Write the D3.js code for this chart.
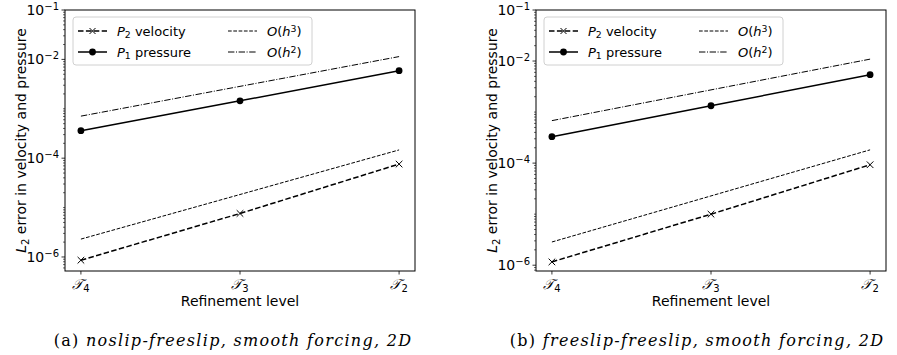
<!DOCTYPE html>
<html>
<head>
<meta charset="utf-8">
<script src="https://cdnjs.cloudflare.com/ajax/libs/d3/7.8.5/d3.min.js"></script>
<style>
  body { margin: 0; background: #fff; }
  svg { display: block; }
  text { font-family: "DejaVu Sans", sans-serif; fill: #000; }
  .cap { font-family: "DejaVu Serif", serif; }
</style>
</head>
<body>
<div id="chart"></div>
<script>
// refinement levels on the x axis (T_4, T_3, T_2)
var levels = ["4", "3", "2"];
var yTicks = [1e-1, 1e-2, 1e-4, 1e-6];

// (a) noslip-freeslip
var velA = [8.6e-7, 7.6e-6, 7.6e-5];
var presA = [3.6e-4, 1.45e-3, 5.9e-3];
var h3A = [2.3e-6, 1.47e-4];   // reference slope at T_4 and T_2
var h2A = [7.1e-4, 1.14e-2];

// (b) freeslip-freeslip
var velB = [1.16e-6, 1.0e-5, 9.3e-5];
var presB = [3.3e-4, 1.33e-3, 5.4e-3];
var h3B = [2.85e-6, 1.82e-4];
var h2B = [6.8e-4, 1.09e-2];

var W = 897, H = 355;
var svg = d3.select("#chart").append("svg")
    .attr("width", W)
    .attr("height", H);

var panels = [
    { left: 65, yMin: 5.2e-7, vel: velA, pres: presA, h3: h3A, h2: h2A,
      capX: 233, tag: "(a) ", caption: "noslip-freeslip, smooth forcing, 2D" },
    { left: 536, yMin: 7.7e-7, vel: velB, pres: presB, h3: h3B, h2: h2B,
      capX: 697, tag: "(b) ", caption: "freeslip-freeslip, smooth forcing, 2D" }
];

var plotTop = 10, plotW = 350, plotH = 261;

// write "P_2 velocity" like mixed math text
function mathLabel(sel, parts) {
    parts.forEach(function (p) {
        var t = sel.append("tspan").text(p.t);
        if (p.i) t.style("font-style", "italic");
        if (p.sub) t.attr("baseline-shift", "-25%").style("font-size", "0.72em");
        if (p.sup) t.attr("baseline-shift", "45%").style("font-size", "0.72em");
    });
}

panels.forEach(function (p) {
    var g = svg.append("g")
        .attr("transform", "translate(" + p.left + "," + plotTop + ")");

    var x = d3.scalePoint()
        .domain(levels)
        .range([0, plotW])
        .padding(0.1);

    var y = d3.scaleLog()
        .domain([p.yMin, 1e-1])
        .range([plotH, 0]);

    // minor ticks on the y axis
    var minor = [];
    for (var e = -7; e <= -2; e++) {
        for (var m = 1; m <= 9; m++) {
            var v = m * Math.pow(10, e);
            if (v >= p.yMin && v <= 1e-1 && yTicks.indexOf(v) < 0) minor.push(v);
        }
    }
    g.selectAll(".minor")
        .data(minor)
        .enter()
        .append("line")
        .attr("x1", -2).attr("x2", 0)
        .attr("y1", function (d) { return y(d); })
        .attr("y2", function (d) { return y(d); })
        .attr("stroke", "#000")
        .attr("stroke-width", 0.6);

    // major ticks + labels
    var yt = g.selectAll(".ytick")
        .data(yTicks)
        .enter()
        .append("g")
        .attr("transform", function (d) { return "translate(0," + y(d) + ")"; });
    yt.append("line")
        .attr("x1", -3.5).attr("x2", 0)
        .attr("stroke", "#000")
        .attr("stroke-width", 0.8);
    yt.append("text")
        .attr("x", -6)
        .attr("dy", "0.35em")
        .attr("text-anchor", "end")
        .style("font-size", "14px")
        .each(function (d) {
            var t = d3.select(this);
            t.append("tspan").text("10");
            t.append("tspan")
                .attr("baseline-shift", "55%")
                .style("font-size", "10px")
                .text("\u2212" + Math.round(-Math.log10(d)));
        });

    // x ticks
    var xt = g.selectAll(".xtick")
        .data(levels)
        .enter()
        .append("g")
        .attr("transform", function (d) { return "translate(" + x(d) + "," + plotH + ")"; });
    xt.append("line")
        .attr("y1", 0).attr("y2", 3.5)
        .attr("stroke", "#000")
        .attr("stroke-width", 0.8);
    xt.append("text")
        .attr("y", 18)
        .attr("text-anchor", "middle")
        .style("font-size", "14px")
        .each(function (d) {
            var t = d3.select(this);
            t.append("tspan").style("font-style", "italic").text("\uD835\uDCAF");
            t.append("tspan").attr("baseline-shift", "-25%").style("font-size", "10px").text(d);
        });

    // axis titles
    g.append("text")
        .attr("x", plotW / 2)
        .attr("y", plotH + 35)
        .attr("text-anchor", "middle")
        .style("font-size", "14px")
        .text("Refinement level");

    var yl = g.append("text")
        .attr("transform", "translate(" + (-39.5) + "," + (plotH / 2) + ") rotate(-90)")
        .attr("text-anchor", "middle")
        .style("font-size", "14px");
    mathLabel(yl, [{ t: "L", i: true }, { t: "2", sub: true }, { t: " error in velocity and pressure" }]);

    // lines
    var line = d3.line()
        .x(function (d) { return x(d.k); })
        .y(function (d) { return y(d.v); });

    var ends = [levels[0], levels[2]];
    function pts(vals, keys) {
        return vals.map(function (v, i) { return { k: keys[i], v: v }; });
    }

    g.append("path")
        .datum(pts(p.h2, ends))
        .attr("d", line)
        .attr("fill", "none")
        .attr("stroke", "#000")
        .attr("stroke-width", 1)
        .attr("stroke-dasharray", "6.4,1.6,1,1.6");

    g.append("path")
        .datum(pts(p.h3, ends))
        .attr("d", line)
        .attr("fill", "none")
        .attr("stroke", "#000")
        .attr("stroke-width", 1)
        .attr("stroke-dasharray", "3.7,1.6");

    g.append("path")
        .datum(pts(p.pres, levels))
        .attr("d", line)
        .attr("fill", "none")
        .attr("stroke", "#000")
        .attr("stroke-width", 1.5);

    g.selectAll(".dot")
        .data(pts(p.pres, levels))
        .enter()
        .append("circle")
        .attr("cx", function (d) { return x(d.k); })
        .attr("cy", function (d) { return y(d.v); })
        .attr("r", 3.4)
        .attr("fill", "#000");

    g.append("path")
        .datum(pts(p.vel, levels))
        .attr("d", line)
        .attr("fill", "none")
        .attr("stroke", "#000")
        .attr("stroke-width", 1.5)
        .attr("stroke-dasharray", "5.5,2.4");

    g.selectAll(".cross")
        .data(pts(p.vel, levels))
        .enter()
        .append("path")
        .attr("d", function (d) {
            var cx = x(d.k), cy = y(d.v), s = 3.3;
            return "M" + (cx - s) + "," + (cy - s) + "L" + (cx + s) + "," + (cy + s) +
                "M" + (cx - s) + "," + (cy + s) + "L" + (cx + s) + "," + (cy - s);
        })
        .attr("stroke", "#000")
        .attr("stroke-width", 1);

    // frame
    g.append("rect")
        .attr("width", plotW)
        .attr("height", plotH)
        .attr("fill", "none")
        .attr("stroke", "#000")
        .attr("stroke-width", 1);

    // legend
    var lg = g.append("g").attr("transform", "translate(8,7)");
    lg.append("rect")
        .attr("width", 239)
        .attr("height", 48)
        .attr("rx", 3)
        .attr("fill", "#fff")
        .attr("fill-opacity", 0.8)
        .attr("stroke", "#d0d0d0")
        .attr("stroke-width", 1);

    var items = [
        { col: 0, row: 0, dash: "5.5,2.4", w: 1.5, mark: "x",
          label: [{ t: "P", i: true }, { t: "2", sub: true }, { t: " velocity" }] },
        { col: 0, row: 1, dash: null, w: 1.5, mark: "o",
          label: [{ t: "P", i: true }, { t: "1", sub: true }, { t: " pressure" }] },
        { col: 1, row: 0, dash: "3.7,1.6", w: 1, mark: null,
          label: [{ t: "O", i: true }, { t: "(" }, { t: "h", i: true }, { t: "3", sup: true }, { t: ")" }] },
        { col: 1, row: 1, dash: "6.4,1.6,1,1.6", w: 1, mark: null,
          label: [{ t: "O", i: true }, { t: "(" }, { t: "h", i: true }, { t: "2", sup: true }, { t: ")" }] }
    ];

    var it = lg.selectAll(".item")
        .data(items)
        .enter()
        .append("g")
        .attr("transform", function (d) {
            return "translate(" + (5 + d.col * 150) + "," + (14 + d.row * 21) + ")";
        });
    it.append("line")
        .attr("x1", 0).attr("x2", 29)
        .attr("stroke", "#000")
        .attr("stroke-width", function (d) { return d.w; })
        .attr("stroke-dasharray", function (d) { return d.dash; });
    it.filter(function (d) { return d.mark === "o"; })
        .append("circle")
        .attr("cx", 14.5).attr("r", 3.4).attr("fill", "#000");
    it.filter(function (d) { return d.mark === "x"; })
        .append("path")
        .attr("d", "M11.5,-3L17.5,3M11.5,3L17.5,-3")
        .attr("stroke", "#000");
    it.append("text")
        .attr("x", 39)
        .attr("dy", "0.35em")
        .style("font-size", "13px")
        .each(function (d) { mathLabel(d3.select(this), d.label); });

    // sub-figure caption
    var cap = svg.append("text")
        .attr("class", "cap")
        .attr("x", p.capX)
        .attr("y", 346)
        .attr("text-anchor", "middle")
        .style("font-size", "16px")
        .style("letter-spacing", "1.3px");
    cap.append("tspan").text(p.tag);
    cap.append("tspan").style("font-style", "italic").text(p.caption);
});
</script>
</body>
</html>
